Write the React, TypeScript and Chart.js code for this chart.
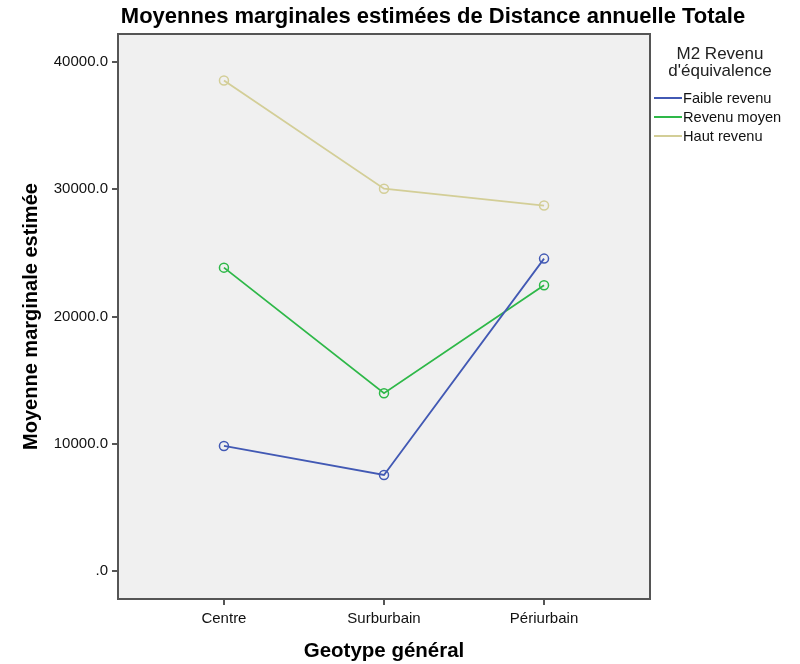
import React, { useEffect, useRef } from "react";
import { Chart, registerables } from "chart.js";

Chart.register(...registerables);

const categories = ["Centre", "Surburbain", "Périurbain"];
const seriesNames = ["Faible revenu", "Revenu moyen", "Haut revenu"];
const faibleRevenu = [9830, 7550, 24550];
const revenuMoyen = [23840, 13970, 22460];
const hautRevenu = [38550, 30040, 28720];
const yTicks = [0, 10000, 20000, 30000, 40000];
const colors = ["#4259B4", "#2EB848", "#D3CE97"];

const titleText = "Moyennes marginales estimées de Distance annuelle Totale";
const xTitle = "Geotype général";
const yTitle = "Moyenne marginale estimée";
const legendTitle = ["M2 Revenu", "d'équivalence"];

const FONT = "'Liberation Sans', Arial, Helvetica, sans-serif";

export default function App() {
  const ref = useRef<HTMLCanvasElement | null>(null);
  useEffect(() => {
    if (!ref.current) return;
    const values = [faibleRevenu, revenuMoyen, hautRevenu];
    const decor = {
      id: "decor",
      beforeDraw(chart: any) {
        const { ctx, chartArea: a } = chart;
        ctx.save();
        ctx.fillStyle = "#F0F0F0";
        ctx.fillRect(a.left, a.top, a.right - a.left, a.bottom - a.top);
        ctx.restore();
      },
      afterDraw(chart: any) {
        const { ctx, chartArea: a } = chart;
        ctx.save();
        ctx.strokeStyle = "#555555";
        ctx.lineWidth = 2;
        ctx.strokeRect(a.left, a.top, a.right - a.left, a.bottom - a.top);
        // title
        ctx.fillStyle = "#000";
        ctx.font = `bold 22px ${FONT}`;
        ctx.textAlign = "center";
        ctx.textBaseline = "middle";
        ctx.fillText(titleText, 433, 17);
        // axis titles
        ctx.font = `bold 20.5px ${FONT}`;
        ctx.fillText(xTitle, (a.left + a.right) / 2, 651);
        ctx.save();
        ctx.translate(31, (a.top + a.bottom) / 2);
        ctx.rotate(-Math.PI / 2);
        ctx.font = `bold 20px ${FONT}`;
        ctx.fillText(yTitle, 0, 0);
        ctx.restore();
        // legend
        ctx.fillStyle = "#222";
        ctx.font = `17px ${FONT}`;
        ctx.fillText(legendTitle[0], 720, 54);
        ctx.fillText(legendTitle[1], 720, 71);
        ctx.font = `14.6px ${FONT}`;
        ctx.textAlign = "left";
        seriesNames.forEach((n, i) => {
          const y = 98 + i * 19;
          ctx.strokeStyle = colors[i];
          ctx.lineWidth = 2;
          ctx.beginPath();
          ctx.moveTo(654, y);
          ctx.lineTo(682, y);
          ctx.stroke();
          ctx.fillStyle = "#111";
          ctx.fillText(n, 683, y + 1);
        });
        ctx.restore();
      },
    };
    const chart = new Chart(ref.current, {
      type: "line",
      data: {
        datasets: seriesNames.map((name, i) => ({
          label: name,
          data: values[i].map((v, j) => ({ x: j, y: v })),
          borderColor: colors[i],
          backgroundColor: "transparent",
          pointBackgroundColor: "transparent",
          pointBorderColor: colors[i],
          pointRadius: 4.5,
          pointBorderWidth: 1.5,
          borderWidth: 1.8,
          tension: 0,
        })),
      },
      options: {
        animation: false,
        responsive: false,
        maintainAspectRatio: false,
        layout: { padding: { left: 0, top: 34, right: 150, bottom: 0 } },
        plugins: { legend: { display: false }, title: { display: false }, tooltip: { enabled: false } },
        scales: {
          x: {
            type: "linear",
            min: -0.662,
            max: 2.662,
            afterBuildTicks: (s: any) => {
              s.ticks = categories.map((_, i) => ({ value: i }));
            },
            afterFit: (s: any) => {
              s.height = 65;
            },
            ticks: {
              callback: (v: any) => categories[v] ?? "",
              font: { family: FONT, size: 15 },
              color: "#111",
              padding: 5,
              maxRotation: 0,
            },
            grid: { drawOnChartArea: false, drawTicks: true, tickLength: 6, color: "#555", lineWidth: 2 },
            border: { display: false },
          },
          y: {
            type: "linear",
            min: -2200,
            max: 42200,
            afterBuildTicks: (s: any) => {
              s.ticks = yTicks.map((v) => ({ value: v }));
            },
            afterFit: (s: any) => {
              s.width = 118;
            },
            ticks: {
              callback: (v: any) => (v === 0 ? ".0" : Number(v).toFixed(1)),
              font: { family: FONT, size: 15 },
              color: "#111",
              padding: 4,
            },
            grid: { drawOnChartArea: false, drawTicks: true, tickLength: 6, color: "#555", lineWidth: 2 },
            border: { display: false },
          },
        },
      },
      plugins: [decor],
    } as any);
    return () => chart.destroy();
  }, []);
  return (
    <div style={{ position: "fixed", left: 0, top: 0, width: 800, height: 664, background: "#fff" }}>
      <canvas ref={ref} width={800} height={664} style={{ width: 800, height: 664 }} />
    </div>
  );
}
